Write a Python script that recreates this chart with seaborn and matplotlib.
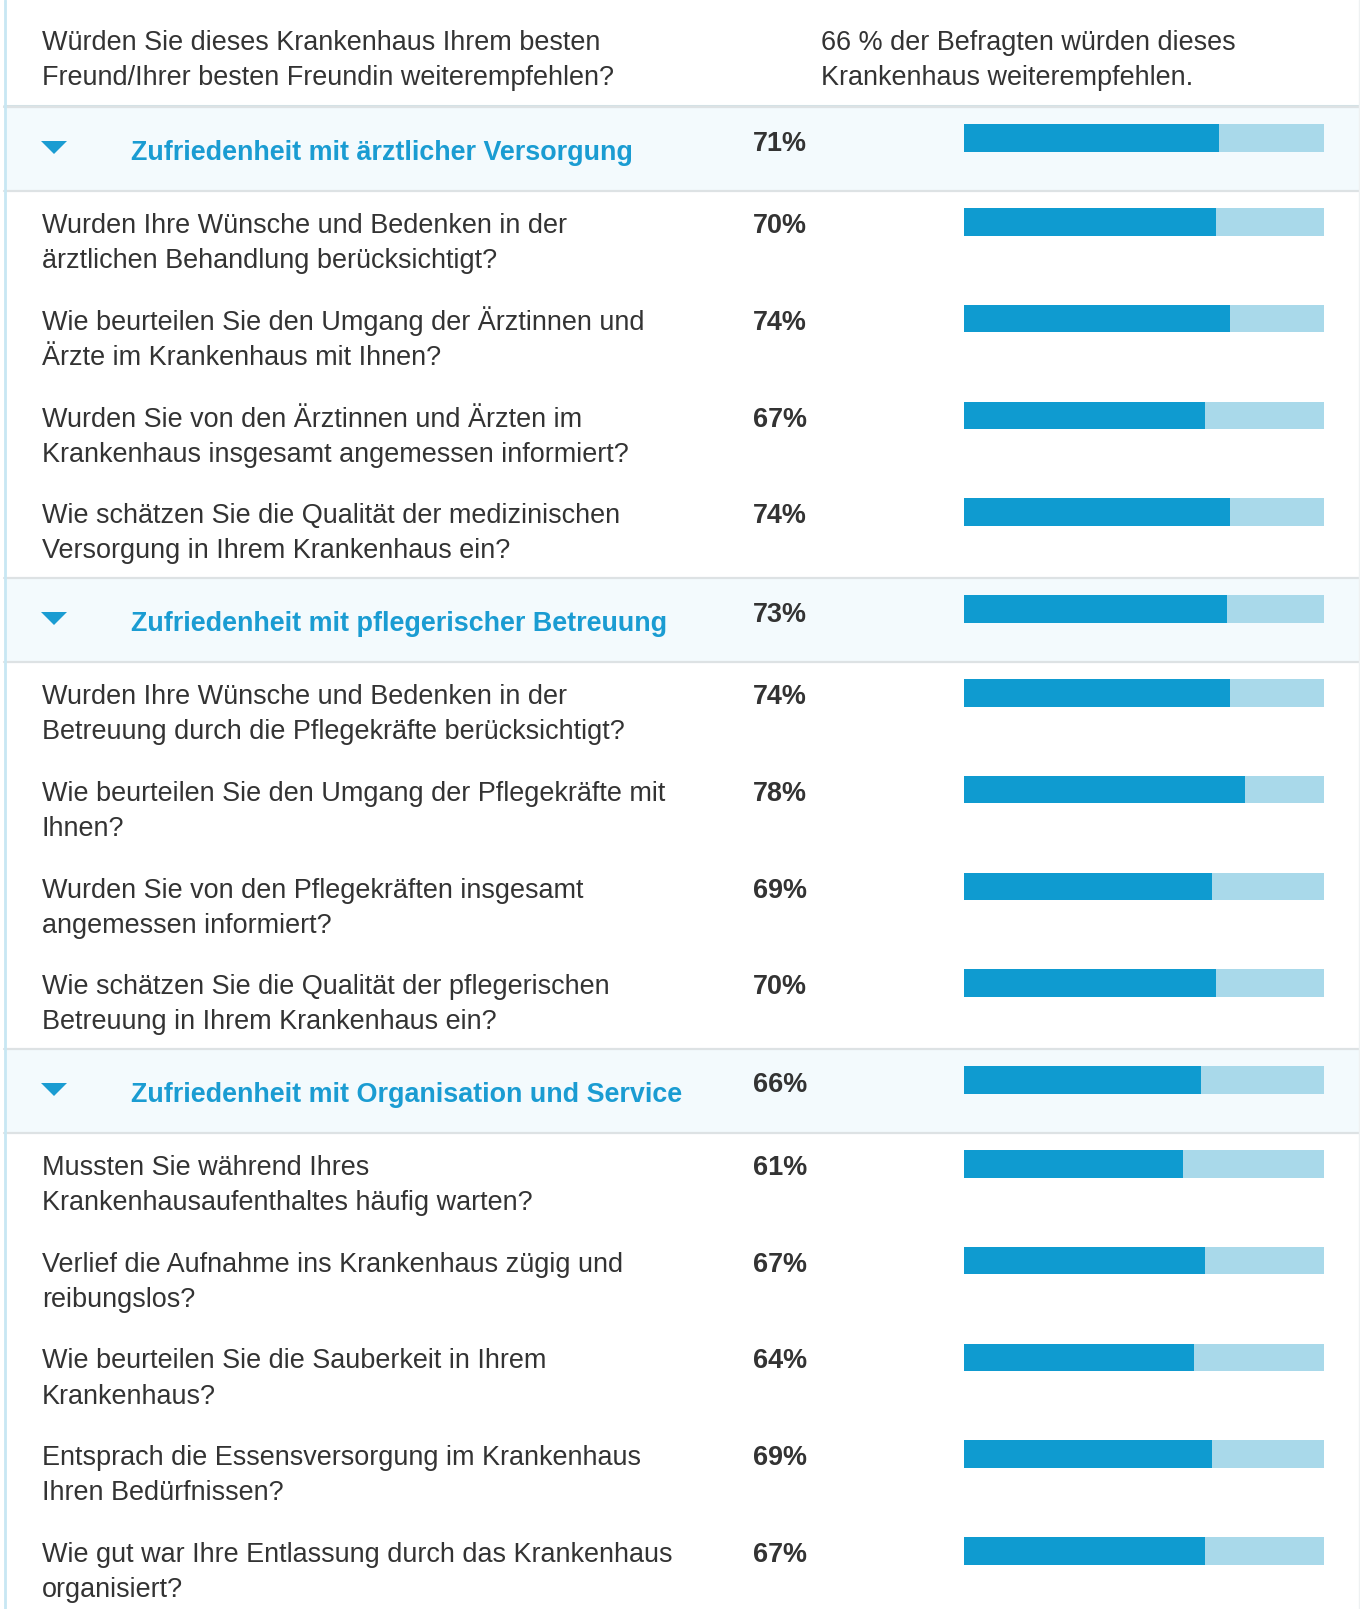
import numpy as np
import pandas as pd
import matplotlib
matplotlib.use('Agg')
import matplotlib.pyplot as plt
from matplotlib import font_manager as fm
from matplotlib.patches import Rectangle, Polygon
import seaborn as sns

# Data
intro_question = "Würden Sie dieses Krankenhaus Ihrem besten\nFreund/Ihrer besten Freundin weiterempfehlen?"
intro_answer = "66 % der Befragten würden dieses\nKrankenhaus weiterempfehlen."

section_titles = [
    "Zufriedenheit mit ärztlicher Versorgung",
    "Zufriedenheit mit pflegerischer Betreuung",
    "Zufriedenheit mit Organisation und Service",
]
section_values = [71, 73, 66]

questions_aerzte = [
    "Wurden Ihre Wünsche und Bedenken in der\närztlichen Behandlung berücksichtigt?",
    "Wie beurteilen Sie den Umgang der Ärztinnen und\nÄrzte im Krankenhaus mit Ihnen?",
    "Wurden Sie von den Ärztinnen und Ärzten im\nKrankenhaus insgesamt angemessen informiert?",
    "Wie schätzen Sie die Qualität der medizinischen\nVersorgung in Ihrem Krankenhaus ein?",
]
values_aerzte = [70, 74, 67, 74]

questions_pflege = [
    "Wurden Ihre Wünsche und Bedenken in der\nBetreuung durch die Pflegekräfte berücksichtigt?",
    "Wie beurteilen Sie den Umgang der Pflegekräfte mit\nIhnen?",
    "Wurden Sie von den Pflegekräften insgesamt\nangemessen informiert?",
    "Wie schätzen Sie die Qualität der pflegerischen\nBetreuung in Ihrem Krankenhaus ein?",
]
values_pflege = [74, 78, 69, 70]

questions_service = [
    "Mussten Sie während Ihres\nKrankenhausaufenthaltes häufig warten?",
    "Verlief die Aufnahme ins Krankenhaus zügig und\nreibungslos?",
    "Wie beurteilen Sie die Sauberkeit in Ihrem\nKrankenhaus?",
    "Entsprach die Essensversorgung im Krankenhaus\nIhren Bedürfnissen?",
    "Wie gut war Ihre Entlassung durch das Krankenhaus\norganisiert?",
]
values_service = [61, 67, 64, 69, 67]

# Style
W, H, DPI = 1360, 1609, 100
TEXT = "#333333"
BLUE = "#1a9cd2"
BAR_DARK = "#0f9bd0"
BAR_LIGHT = "#a9d9ea"
HEAD_BG = "#f3fafd"
LINE = "#dde2e4"
BORDER = "#c8e7f3"

HEADER_H = 84
ITEM_H = 96.75
TOP0 = 107
BAR_H = 27.5
BODY_PX = 27
TITLE_PX = 26.9
PCT_PX = 27


def px(size):
    return size * 72 / DPI


sns.set_theme(style="white")
# make sure the Arial-metric font is really there
fm.findfont(fm.FontProperties(family="Liberation Sans"), fallback_to_default=False)
plt.rcParams['font.family'] = ['Liberation Sans', 'DejaVu Sans']

# build the row layout
rows = []
top = TOP0
for title, sval, qs, vals in zip(section_titles, section_values,
                                  [questions_aerzte, questions_pflege, questions_service],
                                  [values_aerzte, values_pflege, values_service]):
    rows.append({"kind": "section", "label": title, "value": sval, "top": top})
    top += HEADER_H
    for q, v in zip(qs, vals):
        rows.append({"kind": "item", "label": q, "value": v, "top": top})
        top += ITEM_H
df = pd.DataFrame(rows)
df["yc"] = df["top"] + 17 + BAR_H / 2
df["full"] = 100

fig = plt.figure(figsize=(W / DPI, H / DPI), dpi=DPI)
fig.patch.set_facecolor("white")
bg = fig.add_axes([0, 0, 1, 1])
bg.set_xlim(0, W)
bg.set_ylim(H, 0)
bg.axis("off")

# intro block
for i, line in enumerate(intro_question.split("\n")):
    bg.text(42, 49.5 + 35 * i, line, fontsize=px(BODY_PX), color=TEXT, va="baseline")
for i, line in enumerate(intro_answer.split("\n")):
    bg.text(821, 49.5 + 35 * i, line, fontsize=px(BODY_PX), color=TEXT, va="baseline")
bg.add_line(plt.Line2D([4, W], [106, 106], color="#d3e1e6", lw=2.2))

for _, r in df.iterrows():
    t = r["top"]
    if r["kind"] == "section":
        bg.add_patch(Rectangle((5, t), W - 5, HEADER_H, color=HEAD_BG, lw=0, zorder=0))
        bg.add_patch(Polygon([(41, t + 34), (67, t + 34), (54, t + 47)], closed=True,
                             color=BLUE, lw=0))
        bg.text(131, t + 53, r["label"], fontsize=px(TITLE_PX), fontweight="bold",
                color=BLUE, va="baseline")
        bg.text(753, t + 43.5, f"{r['value']}%", fontsize=px(PCT_PX), fontweight="bold",
                color=TEXT, va="baseline")
        bg.add_line(plt.Line2D([4, W], [t, t], color=LINE, lw=1.6))
        bg.add_line(plt.Line2D([4, W], [t + HEADER_H, t + HEADER_H], color=LINE, lw=1.6))
    else:
        for i, line in enumerate(r["label"].split("\n")):
            bg.text(42, t + 42 + 35 * i, line, fontsize=px(BODY_PX), color=TEXT, va="baseline")
        bg.text(753, t + 42, f"{r['value']}%", fontsize=px(PCT_PX), fontweight="bold",
                color=TEXT, va="baseline")

# frame borders
bg.add_line(plt.Line2D([5, 5], [0, H], color=BORDER, lw=2))
bg.add_line(plt.Line2D([1358.5, 1358.5], [0, H], color="#eef1f2", lw=1))

# bars
x0, x1 = 963.5, 1324
bax = fig.add_axes([x0 / W, 0, (x1 - x0) / W, 1])
bax.patch.set_alpha(0)
gaps = np.diff(np.sort(df["yc"].unique())).min()
bw = BAR_H / gaps
sns.barplot(data=df, x="full", y="yc", orient="h", native_scale=True, color=BAR_LIGHT,
            saturation=1, width=bw, errorbar=None, ax=bax, linewidth=0)
sns.barplot(data=df, x="value", y="yc", orient="h", native_scale=True, color=BAR_DARK,
            saturation=1, width=bw, errorbar=None, ax=bax, linewidth=0)
bax.set_xlim(0, 100)
bax.set_ylim(H, 0)
bax.axis("off")

fig.savefig("out.png", dpi=DPI)
